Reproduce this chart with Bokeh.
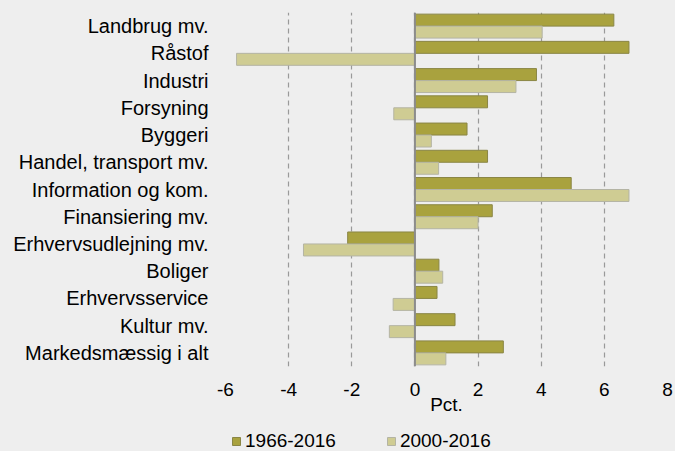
from bokeh.plotting import figure
from bokeh.layouts import column
from bokeh.models import (ColumnDataSource, FactorRange, Range1d, FixedTicker, Span,
                          Legend, LegendItem)
from bokeh.transform import dodge
from bokeh.embed import file_html
from bokeh.resources import INLINE

categories = ["Landbrug mv.", "Råstof", "Industri", "Forsyning", "Byggeri",
              "Handel, transport mv.", "Information og kom.", "Finansiering mv.",
              "Erhvervsudlejning mv.", "Boliger", "Erhvervsservice", "Kultur mv.",
              "Markedsmæssig i alt"]
v_1966_2016 = [6.30, 6.78, 3.85, 2.30, 1.65, 2.30, 4.95, 2.45, -2.13, 0.76, 0.70, 1.27, 2.80]
v_2000_2016 = [4.03, -5.65, 3.20, -0.67, 0.52, 0.75, 6.78, 2.00, -3.53, 0.88, -0.69, -0.81, 0.98]
series_names = ["1966-2016", "2000-2016"]
x_ticks = [-6, -4, -2, 0, 2, 4, 6, 8]

FONT = "Liberation Sans"
BG = "#eeeeee"
DARK = "#a9a23e"
LIGHT = "#cfcc93"
DARK_LINE = "#8a8645"
LIGHT_LINE = "#b4b4a4"

src = ColumnDataSource(dict(cat=categories, a=v_1966_2016, b=v_2000_2016))

p = figure(width=675, height=426, output_backend="svg", toolbar_location=None,
           y_range=FactorRange(factors=list(reversed(categories)), range_padding=0),
           x_range=Range1d(-6, 8),
           min_border_left=225, min_border_right=8, min_border_top=12, min_border_bottom=60)
p.background_fill_color = BG
p.border_fill_color = BG
p.outline_line_color = None

r1 = p.hbar(y=dodge("cat", 0.22, range=p.y_range), left=0, right="a", height=0.44,
            source=src, fill_color=DARK, line_color=DARK_LINE, line_width=1)
r2 = p.hbar(y=dodge("cat", -0.22, range=p.y_range), left=0, right="b", height=0.44,
            source=src, fill_color=LIGHT, line_color=LIGHT_LINE, line_width=1)

p.ygrid.grid_line_color = None
p.xgrid.ticker = FixedTicker(ticks=x_ticks)
p.xgrid.grid_line_color = "#999999"
p.xgrid.grid_line_dash = "5 4"
p.xgrid.grid_line_width = 1.2

p.add_layout(Span(location=0, dimension="height", line_color="#8c8c8c", line_width=2))

xa = p.xaxis[0]
xa.ticker = FixedTicker(ticks=x_ticks)
xa.major_label_overrides = {t: str(t) for t in x_ticks}
xa.axis_line_color = None
xa.major_tick_line_color = None
xa.minor_tick_line_color = None
xa.major_tick_out = 0
xa.major_tick_in = 0
xa.major_label_text_font = FONT
xa.major_label_text_font_size = "19px"
xa.major_label_text_color = "#000000"
xa.major_label_standoff = 16
xa.axis_label = "Pct."
xa.axis_label_text_font = FONT
xa.axis_label_text_font_size = "19px"
xa.axis_label_text_font_style = "normal"
xa.axis_label_text_color = "#000000"
xa.axis_label_standoff = -5

ya = p.yaxis[0]
ya.axis_line_color = None
ya.major_tick_line_color = None
ya.minor_tick_line_color = None
ya.major_tick_out = 0
ya.major_tick_in = 0
ya.major_label_text_font = FONT
ya.major_label_text_font_size = "20px"
ya.major_label_text_color = "#000000"
ya.major_label_standoff = 17

# legend strip below the chart (its bars lie outside its own ranges, only the legend shows)
lg = figure(width=675, height=25, output_backend="svg", toolbar_location=None,
            x_axis_type=None, y_axis_type=None, x_range=Range1d(100, 101),
            y_range=Range1d(100, 101),
            min_border=0, min_border_left=0, min_border_right=0, min_border_top=0,
            min_border_bottom=0)
lg.background_fill_color = BG
lg.border_fill_color = BG
lg.outline_line_color = None
lg.grid.visible = False
g1 = lg.hbar(y=0.5, left=0, right="a", height=0.5, source=src,
             fill_color=DARK, line_color=DARK_LINE)
g2 = lg.hbar(y=0.5, left=0, right="b", height=0.5, source=src,
             fill_color=LIGHT, line_color=LIGHT_LINE)
legend = Legend(items=[LegendItem(label=series_names[0], renderers=[g1]),
                       LegendItem(label=series_names[1], renderers=[g2])],
                orientation="horizontal", location=(6, -1),
                glyph_width=10, glyph_height=10, label_standoff=4, spacing=50,
                padding=0, margin=0, border_line_color=None, background_fill_alpha=0,
                label_text_font=FONT, label_text_font_size="19px", label_text_color="#000000")
lg.add_layout(legend, "center")

layout = column(p, lg, spacing=0)
layout.styles = {"background-color": BG}
open("out.html", "w").write(file_html(layout, INLINE))
